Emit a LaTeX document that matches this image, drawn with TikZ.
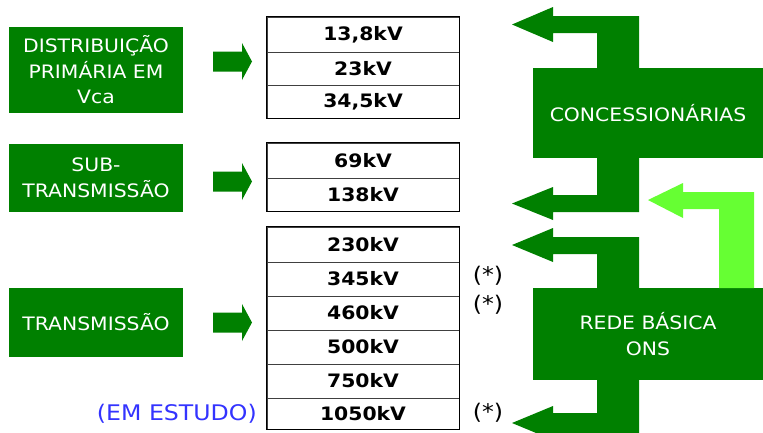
\documentclass[tikz,border=0pt]{standalone}
\usepackage{fontspec}
\setmainfont[FakeStretch=1.1]{DejaVu Sans}
\usetikzlibrary{positioning,calc}
\definecolor{dkgreen}{RGB}{0,128,0}
\definecolor{ltgreen}{RGB}{102,255,51}
\definecolor{estudo}{RGB}{51,51,255}
\tikzset{
  grbox/.style={fill=dkgreen,text=white,align=center,inner sep=0pt,
                font=\fontsize{18.5}{25.5}\selectfont},
  kv/.style={draw=black!75,line width=.8pt,minimum width=192pt,inner sep=0pt,
             font=\fontsize{18.5}{22}\selectfont\bfseries},
  frame/.style={draw=black,line width=1.6pt},
  blk/.style={fill=dkgreen},
  note/.style={font=\fontsize{21.5}{24}\selectfont,inner sep=0pt},
}

\begin{document}
\begin{tikzpicture}[x=1pt,y=-1pt]
  \clip (0,0) rectangle (763,432);
  % left boxes
  \node[grbox,minimum width=174pt,minimum height=86pt] (dist) at (96,70)
        {DISTRIBUIÇÃO\\PRIMÁRIA EM\\Vca};
  \node[grbox,minimum width=174pt,minimum height=68pt] (sub) at (96,178)
        {SUB-\\TRANSMISSÃO};
  \node[grbox,minimum width=174pt,minimum height=69pt] (trans) at (96,322.5)
        {TRANSMISSÃO};
  % small arrows
  \foreach \y in {61.5,181.5,322.5}
    \fill[dkgreen] (213,\y-10) -- (242,\y-10) -- (242,\y-18.5) -- (252,\y)
          -- (242,\y+18.5) -- (242,\y+10) -- (213,\y+10) -- cycle;
  % voltage tables
  \node[kv,minimum height=35pt] (kv13)  at (363,34.5)  {13,8kV};
  \node[kv,minimum height=33pt] (kv23)  at (363,68.5)  {23kV};
  \node[kv,minimum height=33pt] (kv34)  at (363,101.5) {34,5kV};
  \draw[frame] (kv13.north west) rectangle (kv34.south east);
  \node[kv,minimum height=35pt] (kv69)  at (363,160.5) {69kV};
  \node[kv,minimum height=33pt] (kv138) at (363,194.5) {138kV};
  \draw[frame] (kv69.north west) rectangle (kv138.south east);
  \node[kv,minimum height=35pt] (kv230) at (363,244.5) {230kV};
  \node[kv,minimum height=34pt] (kv345) at (363,279)   {345kV};
  \node[kv,minimum height=34pt] (kv460) at (363,313)   {460kV};
  \node[kv,minimum height=34pt] (kv500) at (363,347)   {500kV};
  \node[kv,minimum height=34pt] (kv750) at (363,381)   {750kV};
  \node[kv,minimum height=31pt] (kv1050) at (363,413.5) {1050kV};
  \draw[frame] (kv230.north west) rectangle (kv1050.south east);
  \node[note] (st1) at (488,276) {(*)};
  \node[note] (st2) at (488,305) {(*)};
  \node[note] (st3) at (488,413) {(*)};
  \node[note,text=estudo,anchor=east] (est) at (257,414) {(EM ESTUDO)};
  % right blocks
  \node[grbox,minimum width=230pt,minimum height=90pt] (conc) at (648,113)
        {CONCESSIONÁRIAS};
  \node[grbox,minimum width=230pt,minimum height=92pt] (rede) at (648,334)
        {REDE BÁSICA\\ONS};
  \fill[blk] (512,24.5) -- (553,7) -- (553,16) -- (639,16) -- (639,68)
        -- (597,68) -- (597,33) -- (553,33) -- (553,42) -- cycle;
  \fill[blk] (512,203.5) -- (553,187) -- (553,195) -- (597,195) -- (597,158)
        -- (639,158) -- (639,212) -- (553,212) -- (553,220) -- cycle;
  \fill[blk] (512,245) -- (553,228) -- (553,237) -- (639,237) -- (639,288)
        -- (597,288) -- (597,254) -- (553,254) -- (553,262) -- cycle;
  \fill[blk] (512,423) -- (553,406) -- (553,413) -- (597,413) -- (597,380)
        -- (639,380) -- (639,440) -- (553,440) -- cycle;
  \fill[ltgreen] (648,200) -- (683,183) -- (683,192) -- (754,192) -- (754,288)
        -- (719,288) -- (719,209) -- (683,209) -- (683,218) -- cycle;
\end{tikzpicture}
\end{document}
